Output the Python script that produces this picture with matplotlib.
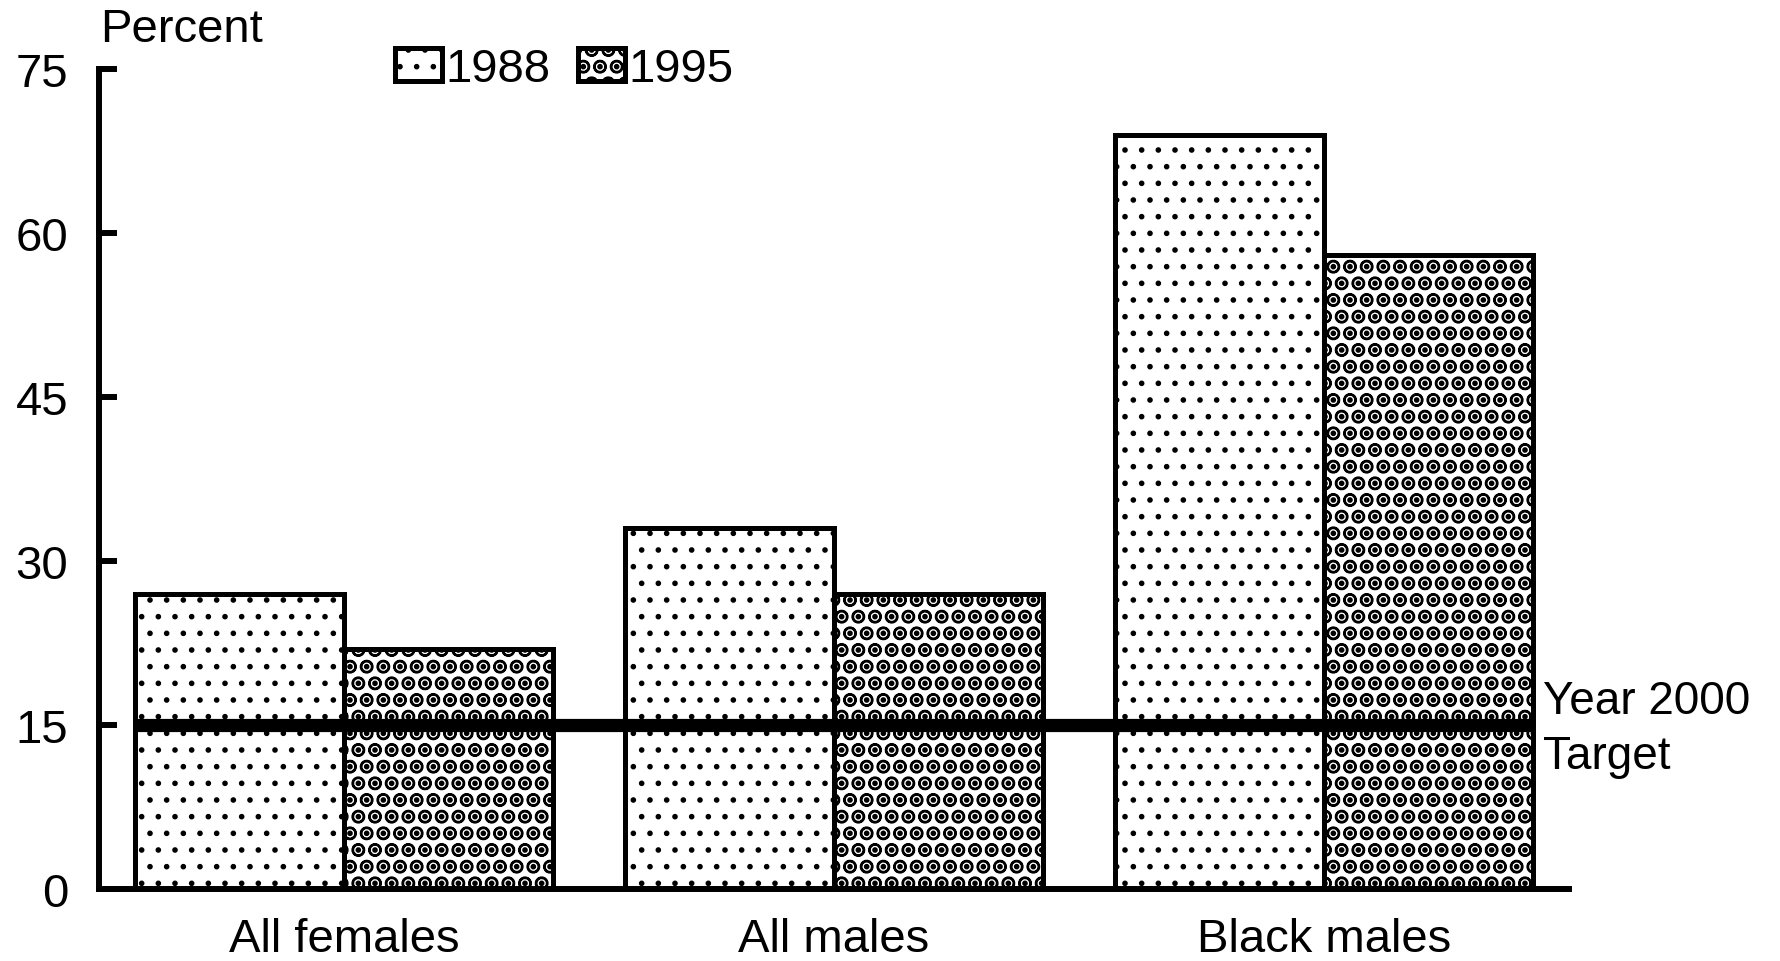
import matplotlib
matplotlib.use("Agg")
import matplotlib.pyplot as plt
import numpy as np

# data
groups = ["All females", "All males", "Black males"]
years = ["1988", "1995"]
vals_1988 = [27, 33, 69]
vals_1995 = [22, 27, 58]
target = 15
yticks = [0, 15, 30, 45, 60, 75]

plt.rcParams['font.family'] = ['Liberation Sans', 'DejaVu Sans']
plt.rcParams['hatch.linewidth'] = 1.6

fig = plt.figure(figsize=(17.81, 9.62), dpi=100)
ax = fig.add_axes([0.0556, 0.0745, 0.8253, 0.8527])

x = np.arange(len(groups))
w = 0.427

# bars
b1 = ax.bar(x - w / 2, vals_1988, w, color="white", edgecolor="black",
            linewidth=3.6, hatch=".", label=years[0])
b2 = ax.bar(x + w / 2, vals_1995, w, color="white", edgecolor="black",
            linewidth=3.6, hatch="O.", label=years[1])

# target line
ax.plot([x[0] - w, x[-1] + w], [target, target], color="black",
        linewidth=9.5, solid_capstyle="butt", zorder=5)
ax.text(x[-1] + w + 0.02, target - 0.3, "Year 2000\nTarget", fontsize=33,
        ha="left", va="center", linespacing=1.3)

# axes styling
ax.set_xlim(-0.5, 2.5)
ax.set_ylim(0, 75)
ax.set_yticks(yticks)
ax.set_xticks(x)
ax.set_xticklabels(groups)
for s in ["top", "right"]:
    ax.spines[s].set_visible(False)
for s in ["left", "bottom"]:
    ax.spines[s].set_linewidth(4.3)
ax.tick_params(axis="y", direction="in", length=13, width=4.3,
               labelsize=34, pad=22)
ax.tick_params(axis="x", length=0, labelsize=34, pad=20)

fig.text(0.0562, 0.969, "Percent", fontsize=34, ha="left", va="center")

ax.legend(loc="center left", bbox_to_anchor=(0.222, 0.927),
          bbox_transform=fig.transFigure, ncol=2, frameon=False,
          fontsize=34, handlelength=0.98, handleheight=0.68,
          handletextpad=0.07, columnspacing=0.6, borderpad=0,
          borderaxespad=0)

fig.savefig("out.png", dpi=100)
